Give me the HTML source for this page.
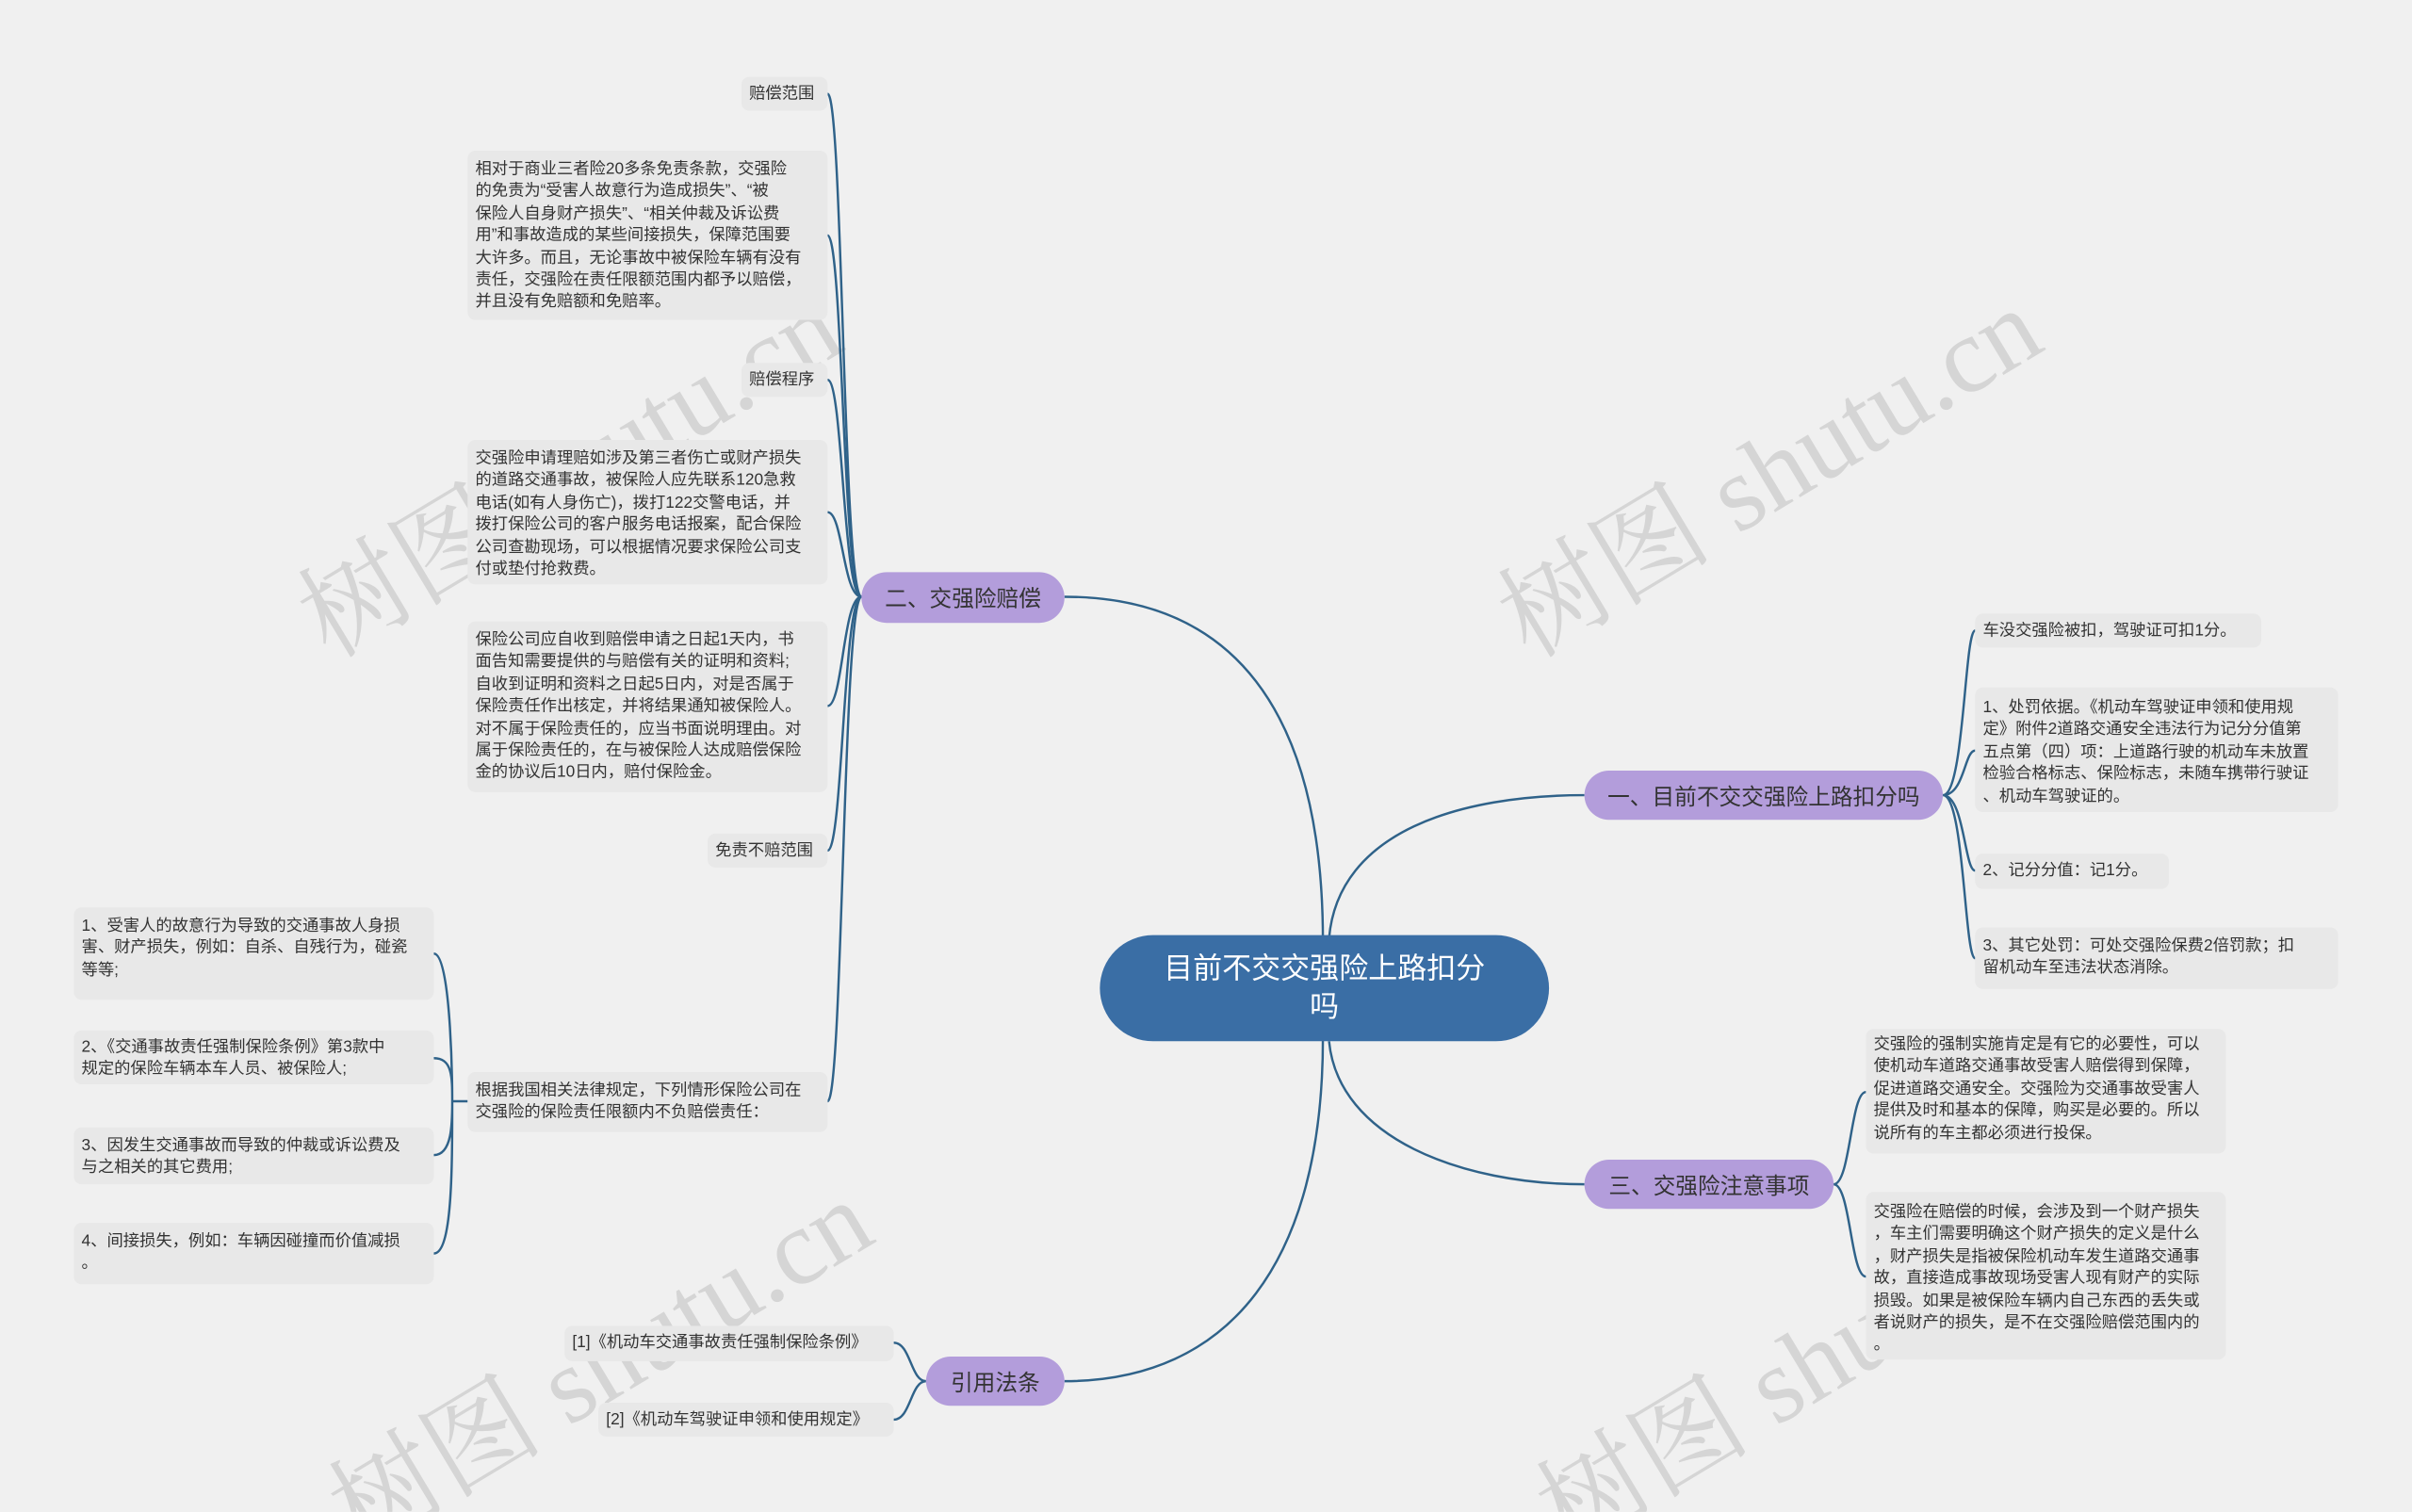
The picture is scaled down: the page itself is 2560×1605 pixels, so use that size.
<!DOCTYPE html>
<html><head><meta charset="utf-8"><style>
html,body{margin:0;padding:0;background:#f0f0f0;width:2560px;height:1605px;overflow:hidden;position:relative}
#c{position:absolute;left:0;top:0;width:1568px;height:983px;transform:scale(1.632653);transform-origin:0 0;font-family:"Liberation Sans","Noto Sans CJK SC",sans-serif;overflow:hidden}
.b{position:absolute;background:#e8e8e8;border-radius:5px;color:#333;font-size:10.6px;line-height:14.4px;padding:5px 5px;box-sizing:border-box;white-space:nowrap}
.p{position:absolute;background:#b39ddb;border-radius:17px;color:#333;font-size:14.5px;display:flex;align-items:center;justify-content:center;box-sizing:border-box;white-space:nowrap}
.wm{position:absolute;color:#d5d5d5;font-size:70px;line-height:70px;font-family:"Liberation Serif","Noto Serif CJK SC",serif;transform:rotate(-31deg);transform-origin:0 0;white-space:nowrap}
svg{position:absolute;left:0;top:0}
</style></head><body><div id="c">
<div class="wm" style="left:185px;top:380px">树图 shutu.cn</div>
<div class="wm" style="left:965px;top:380px">树图 shutu.cn</div>
<div class="wm" style="left:205px;top:960px">树图 shutu.cn</div>
<div class="wm" style="left:990px;top:960px">树图 shutu.cn</div>
<svg width="1568" height="983" fill="none" stroke="#2f6289" stroke-width="1.5">
<path d="M860 612 C860 460 800 388 692 388"/>
<path d="M860 675 C860 820 800 898 692 898"/>
<path d="M864 610 C870 540 950 517 1030 517"/>
<path d="M864 677 C870 740 950 770 1030 770"/>
<g>
<path d="M560 388 C548 388 548 61 538 61"/>
<path d="M560 388 C548 388 548 153 538 153"/>
<path d="M560 388 C548 388 548 247 538 247"/>
<path d="M560 388 C548 388 548 333 538 333"/>
<path d="M560 388 C548 388 548 459 538 459"/>
<path d="M560 388 C548 388 548 553 538 553"/>
<path d="M560 388 C548 388 548 716 538 716"/>
<path d="M304 716 H294 M294 716 C294 716 294 620 282 620 M294 716 C294 700 294 688 282 688 M294 716 C294 730 294 751 282 751 M294 716 C294 760 294 815 282 815"/>
<path d="M602 898 C592 898 592 873 581 873 M602 898 C592 898 592 923 581 923"/>
<path d="M1263 517 C1277 517 1277 410 1284 410 M1263 517 C1277 517 1277 488 1284 488 M1263 517 C1277 517 1277 566 1284 566 M1263 517 C1277 517 1277 623 1284 623"/>
<path d="M1192 770 C1203 770 1203 710 1213 710 M1192 770 C1203 770 1203 830 1213 830"/>
</g>
</svg>
<div style="position:absolute;left:715px;top:608px;width:292px;height:69px;background:#3a6ea5;border-radius:35px;color:#fff;font-size:19px;line-height:25px;text-align:center;padding-top:10px;box-sizing:border-box">目前不交交强险上路扣分<br>吗</div>
<div class="p" style="left:560px;top:372px;width:132px;height:33px">二、交强险赔偿</div>
<div class="p" style="left:1030px;top:501px;width:233px;height:32px">一、目前不交交强险上路扣分吗</div>
<div class="p" style="left:1030px;top:754px;width:162px;height:32px">三、交强险注意事项</div>
<div class="p" style="left:602px;top:882px;width:90px;height:32px">引用法条</div>

<div class="b" style="left:482px;top:50px;width:56px;height:22px;padding-top:4px">赔偿范围</div>
<div class="b" style="left:304px;top:98px;width:234px;height:110px">相对于商业三者险20多条免责条款，交强险<br>的免责为“受害人故意行为造成损失”、“被<br>保险人自身财产损失”、“相关仲裁及诉讼费<br>用”和事故造成的某些间接损失，保障范围要<br>大许多。而且，无论事故中被保险车辆有没有<br>责任，交强险在责任限额范围内都予以赔偿，<br>并且没有免赔额和免赔率。</div>
<div class="b" style="left:482px;top:236px;width:56px;height:22px;padding-top:4px">赔偿程序</div>
<div class="b" style="left:304px;top:286px;width:234px;height:94px">交强险申请理赔如涉及第三者伤亡或财产损失<br>的道路交通事故，被保险人应先联系120急救<br>电话(如有人身伤亡)，拨打122交警电话，并<br>拨打保险公司的客户服务电话报案，配合保险<br>公司查勘现场，可以根据情况要求保险公司支<br>付或垫付抢救费。</div>
<div class="b" style="left:304px;top:404px;width:234px;height:111px">保险公司应自收到赔偿申请之日起1天内，书<br>面告知需要提供的与赔偿有关的证明和资料;<br>自收到证明和资料之日起5日内，对是否属于<br>保险责任作出核定，并将结果通知被保险人。<br>对不属于保险责任的，应当书面说明理由。对<br>属于保险责任的，在与被保险人达成赔偿保险<br>金的协议后10日内，赔付保险金。</div>
<div class="b" style="left:460px;top:542px;width:78px;height:22px;padding-top:4px">免责不赔范围</div>
<div class="b" style="left:304px;top:697px;width:234px;height:39px">根据我国相关法律规定，下列情形保险公司在<br>交强险的保险责任限额内不负赔偿责任：</div>
<div class="b" style="left:48px;top:590px;width:234px;height:60px">1、受害人的故意行为导致的交通事故人身损<br>害、财产损失，例如：自杀、自残行为，碰瓷<br>等等;</div>
<div class="b" style="left:48px;top:670px;width:234px;height:35px;padding-top:4px">2、《交通事故责任强制保险条例》第3款中<br>规定的保险车辆本车人员、被保险人;</div>
<div class="b" style="left:48px;top:733px;width:234px;height:37px">3、因发生交通事故而导致的仲裁或诉讼费及<br>与之相关的其它费用;</div>
<div class="b" style="left:48px;top:795px;width:234px;height:40px">4、间接损失，例如：车辆因碰撞而价值减损<br>。</div>
<div class="b" style="left:367px;top:862px;width:214px;height:23px;padding-top:4px">[1]《机动车交通事故责任强制保险条例》</div>
<div class="b" style="left:389px;top:912px;width:192px;height:22px;padding-top:4px">[2]《机动车驾驶证申领和使用规定》</div>

<div class="b" style="left:1284px;top:399px;width:186px;height:22px;padding-top:4px">车没交强险被扣，驾驶证可扣1分。</div>
<div class="b" style="left:1284px;top:447px;width:236px;height:81px;padding-top:6px">1、处罚依据。《机动车驾驶证申领和使用规<br>定》附件2道路交通安全违法行为记分分值第<br>五点第（四）项：上道路行驶的机动车未放置<br>检验合格标志、保险标志，未随车携带行驶证<br>、机动车驾驶证的。</div>
<div class="b" style="left:1284px;top:555px;width:126px;height:23px;padding-top:4px">2、记分分值：记1分。</div>
<div class="b" style="left:1284px;top:603px;width:236px;height:40px">3、其它处罚：可处交强险保费2倍罚款；扣<br>留机动车至违法状态消除。</div>
<div class="b" style="left:1213px;top:669px;width:234px;height:81px;padding-top:3px">交强险的强制实施肯定是有它的必要性，可以<br>使机动车道路交通事故受害人赔偿得到保障，<br>促进道路交通安全。交强险为交通事故受害人<br>提供及时和基本的保障，购买是必要的。所以<br>说所有的车主都必须进行投保。</div>
<div class="b" style="left:1213px;top:775px;width:234px;height:109px;padding-top:6px">交强险在赔偿的时候，会涉及到一个财产损失<br>，车主们需要明确这个财产损失的定义是什么<br>，财产损失是指被保险机动车发生道路交通事<br>故，直接造成事故现场受害人现有财产的实际<br>损毁。如果是被保险车辆内自己东西的丢失或<br>者说财产的损失，是不在交强险赔偿范围内的<br>。</div>
</div></body></html>
